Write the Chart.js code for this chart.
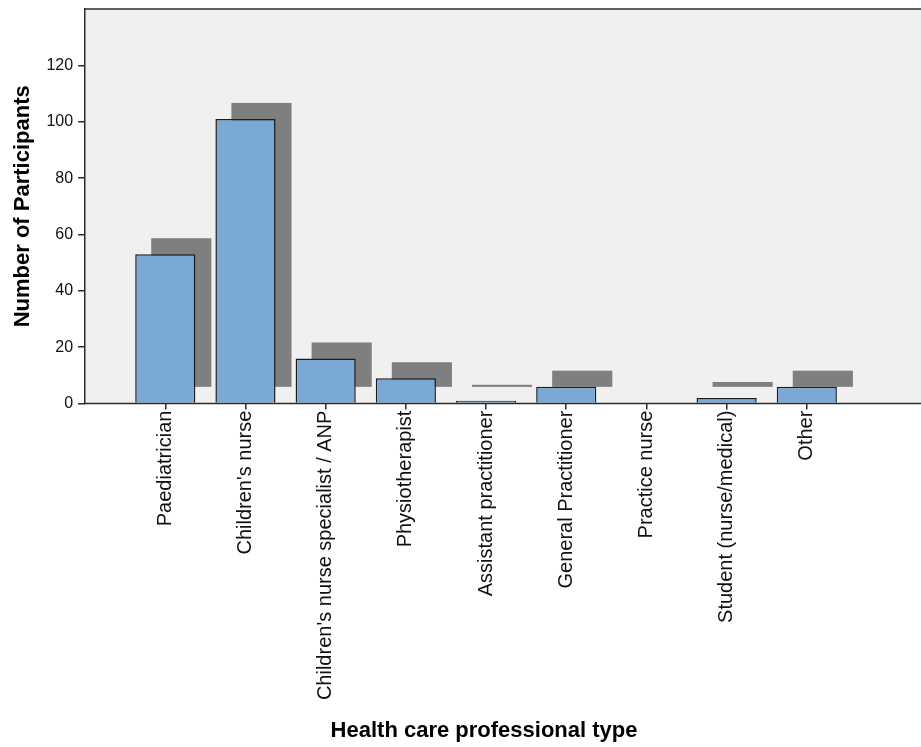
<!DOCTYPE html>
<html>
<head>
<meta charset="utf-8">
<script src="https://cdn.jsdelivr.net/npm/chart.js@4"></script>
<style>
  html, body { margin: 0; padding: 0; background: #fff; overflow: hidden; }
  #wrap { width: 921px; height: 747px; }
</style>
</head>
<body>
<div id="wrap"><canvas id="myChart"></canvas></div>
<script>
// categories and counts
var professions = ['Paediatrician', "Children's nurse", "Children's nurse specialist / ANP", 'Physiotherapist',
  'Assistant practitioner', 'General Practitioner', 'Practice nurse', 'Student (nurse/medical)', 'Other'];
var participants = [53, 101, 16, 9, 1, 6, 0, 2, 6];
var yTicks = [0, 20, 40, 60, 80, 100, 120];

var FONT = "'Liberation Sans', Arial, sans-serif";

// grey panel + frame that runs off to the right edge of the canvas
var panel = {
  id: 'panel',
  beforeDraw: function (chart) {
    var a = chart.chartArea, c = chart.ctx;
    c.save();
    c.fillStyle = '#f0f0f0';
    c.fillRect(a.left, a.top, chart.width - a.left, a.bottom - a.top);
    c.restore();
  },
  afterDatasetsDraw: function (chart) {
    var a = chart.chartArea, c = chart.ctx;
    c.save();
    c.strokeStyle = '#2b2b2b';
    c.lineWidth = 1.5;
    c.beginPath();
    c.moveTo(a.left, a.top);
    c.lineTo(chart.width, a.top);
    c.moveTo(a.left, a.bottom);
    c.lineTo(chart.width, a.bottom);
    c.stroke();
    c.restore();
  }
};

// drop shadow behind each bar, shifted up and to the right
var barShadow = {
  id: 'barShadow',
  beforeDatasetsDraw: function (chart) {
    var c = chart.ctx;
    var meta = chart.getDatasetMeta(0);
    c.save();
    c.fillStyle = '#7f7f7f';
    meta.data.forEach(function (bar) {
      var p = bar.getProps(['x', 'y', 'base', 'width'], true);
      var h = p.base - p.y;
      if (h <= 0) return;
      c.fillRect(p.x - p.width / 2 + 16, p.y - 16, p.width, h);
    });
    c.restore();
  }
};

var ctx = document.getElementById('myChart').getContext('2d');
var myChart = new Chart(ctx, {
  type: 'bar',
  data: {
    datasets: [{
      label: 'Participants',
      data: participants.map(function (v, i) { return { x: i, y: v }; }),
      backgroundColor: '#7aa9d6',
      borderColor: '#1c1c1c',
      borderWidth: 1.5,
      categoryPercentage: 1,
      barPercentage: 0.75
    }]
  },
  options: {
    responsive: true,
    maintainAspectRatio: false,
    animation: false,
    layout: { padding: { top: 0, right: 38, left: 10, bottom: 3 } },
    plugins: {
      legend: { display: false },
      tooltip: { enabled: false }
    },
    scales: {
      x: {
        type: 'linear',
        offset: false,
        min: -1,
        max: 8.95,
        afterBuildTicks: function (scale) {
          scale.ticks = professions.map(function (p, i) { return { value: i }; });
        },
        ticks: {
          autoSkip: false,
          minRotation: 90,
          maxRotation: 90,
          padding: 1,
          color: '#111',
          font: { family: FONT, size: 20 },
          callback: function (v) { return professions[v]; }
        },
        grid: { offset: false, drawOnChartArea: false, drawTicks: true, tickLength: 6, color: '#2b2b2b', lineWidth: 1.5 },
        border: { display: false },
        title: {
          display: true,
          text: 'Health care professional type',
          color: '#000',
          font: { family: FONT, size: 22, weight: 'bold' },
          padding: { top: 16.5, bottom: 0 }
        }
      },
      y: {
        min: 0,
        max: 140,
        afterBuildTicks: function (scale) {
          scale.ticks = yTicks.map(function (v) { return { value: v }; });
        },
        afterFit: function (scale) {
          scale.paddingTop = 9;
        },
        ticks: {
          padding: 5,
          color: '#111',
          font: { family: FONT, size: 16 }
        },
        grid: { drawOnChartArea: false, drawTicks: true, tickLength: 7, color: '#2b2b2b', lineWidth: 1.5 },
        border: { display: true, color: '#2b2b2b', width: 1.5 },
        title: {
          display: true,
          text: 'Number of Participants',
          color: '#000',
          font: { family: FONT, size: 22, weight: 'bold' },
          padding: { top: 0, bottom: 5 }
        }
      }
    }
  },
  plugins: [panel, barShadow]
});
</script>
</body>
</html>
